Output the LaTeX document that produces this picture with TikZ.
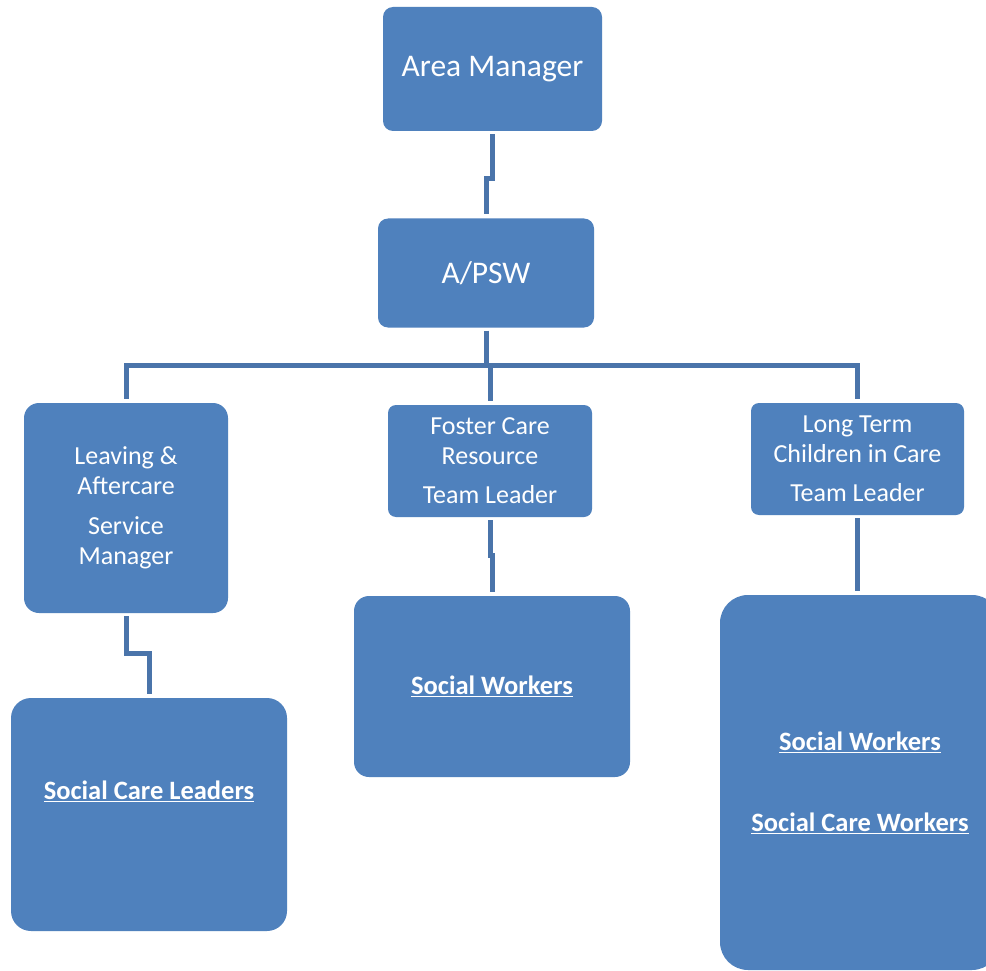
\documentclass[tikz,border=0pt]{standalone}
\usepackage{fontspec}
\setmainfont{Carlito}
\definecolor{boxblue}{HTML}{4F81BD}
\definecolor{lineblue}{HTML}{4A74AA}
\begin{document}
\begin{tikzpicture}[x=1pt,y=-1pt,
  box/.style={fill=boxblue,text=white,align=center,rounded corners=#1,inner sep=0pt,
    font=\fontsize{26}{29.5}\selectfont},
  box/.default=10pt,
  bigfont/.style={font=\fontsize{31.5}{36}\selectfont},
  conn/.style={draw=lineblue,line width=5pt,shorten <=3pt,shorten >=4pt},
  lab/.style={text=white,align=center,inner sep=0pt,font=\fontsize{26.5}{30}\selectfont\bfseries}]
\useasboundingbox (0,0) rectangle (986,971);
\clip (0,0) rectangle (986,971);
\fill[white] (0,0) rectangle (986,971);

\node[box=10pt,bigfont,minimum width=219pt,minimum height=124pt] (am) at (492.5,69) {\raisebox{-3pt}{Area Manager}};
\node[box=10pt,bigfont,minimum width=216pt,minimum height=109pt] (apsw) at (486,273) {A/PSW};
\node[box=15pt,minimum width=204pt,minimum height=210pt] (leave) at (126,508)
  {Leaving \&\\Aftercare\\[11pt]Service\\Manager};
\node[box=8pt,minimum width=204pt,minimum height=112pt] (foster) at (490,461)
  {Foster Care\\Resource\\[10pt]Team Leader};
\node[box=8pt,minimum width=213pt,minimum height=112pt] (long) at (857.5,459)
  {Long Term\\Children in Care\\[10pt]Team Leader};
\node[box=20pt,minimum width=276pt,minimum height=233pt,
  label={[lab,yshift=23.5pt]center:\underline{Social Care Leaders}}] (scl) at (149,814.5) {};
\node[box=15pt,minimum width=276pt,minimum height=181pt,font=\fontsize{26.5}{30}\selectfont\bfseries] (swm) at (492,686.5)
  {\underline{Social Workers}};
\node[box=28pt,minimum width=280pt,minimum height=375pt,font=\fontsize{26.5}{30}\selectfont\bfseries] (big) at (860,782.5)
  {\underline{Social Workers}\\[51pt]\underline{Social Care Workers}};

\draw[conn] (am.south) -- ++(0,47) -| (apsw.north);
\draw[conn,shorten >=0pt] (apsw.south) -- ++(0,38) coordinate (bar);
\draw[conn,shorten <=0pt] (bar) -| (leave.north);
\draw[conn,shorten <=0pt] (bar) -| (long.north);
\draw[conn,shorten <=0pt] (foster.north |- bar) -- (foster.north);
\draw[conn] (leave.south) -- ++(0,40) -| (scl.north);
\draw[conn] (foster.south) -- ++(0,38) -| (swm.north);
\draw[conn] (long.south) -- (long.south |- big.north);
\end{tikzpicture}
\end{document}
